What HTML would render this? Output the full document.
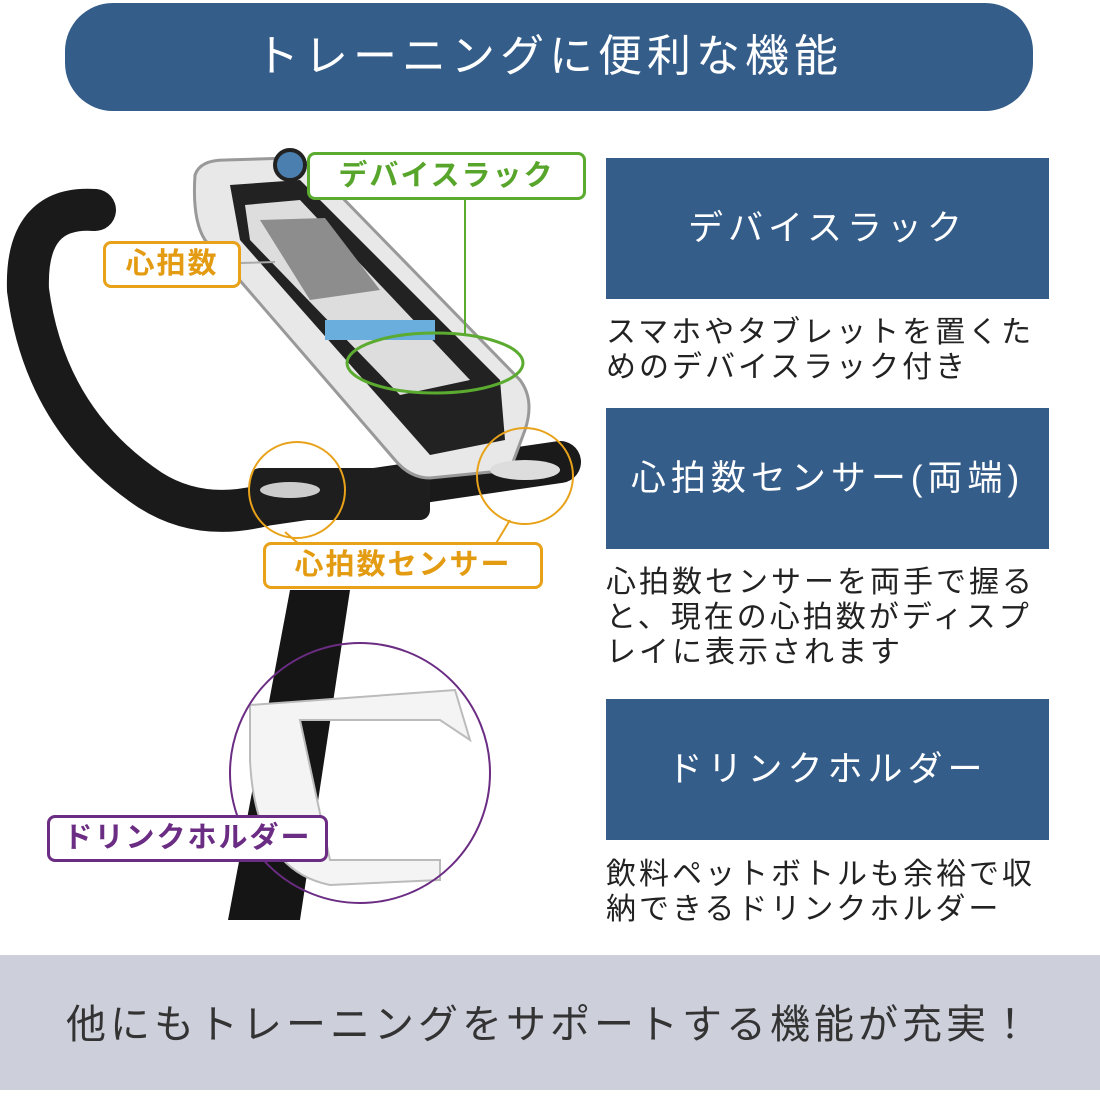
<!DOCTYPE html>
<html><head><meta charset="utf-8"><style>
body{margin:0;width:1100px;height:1100px;background:#fff;position:relative;overflow:hidden;font-family:"Liberation Sans","Noto Sans CJK JP",sans-serif}
.t{position:absolute;left:65px;top:3px;width:968px;height:108px;border-radius:48px;background:#345d8a;color:#fff;font-size:44px;text-align:center;line-height:108px;letter-spacing:5px}
.b{position:absolute;left:606px;width:443px;height:141px;background:#345d8a;color:#fff;font-size:35px;text-align:center;line-height:141px;letter-spacing:5px}
.d{position:absolute;left:606px;width:432px;font-size:30px;line-height:35px;color:#222;letter-spacing:3px}
.g{position:absolute;left:0;top:955px;width:1100px;height:135px;background:#cdcfdb;color:#333;font-size:40px;line-height:140px;text-align:center;letter-spacing:4px}
.l{position:absolute;background:#fff;border:3px solid;border-radius:8px;font-weight:bold;font-size:29px;text-align:center;box-sizing:border-box;letter-spacing:2px}
</style></head><body>
<div class="t">トレーニングに便利な機能</div>
<svg style="position:absolute;left:0;top:0" width="600" height="950">
<path d="M290 590 L350 590 L300 920 L228 920Z" fill="#151515"/>
<path d="M95 210 Q25 205 28 290 Q45 420 150 490 Q200 522 265 505 L560 462" stroke="#1a1a1a" stroke-width="42" fill="none" stroke-linecap="round"/>
<rect x="250" y="468" width="180" height="52" rx="10" fill="#1e1e1e"/>
<path d="M195 175 Q200 160 225 160 L290 158 Q310 158 330 185 L520 380 Q535 400 525 430 L510 470 L430 478 Q410 478 395 460 L205 240 Q192 220 195 175Z" fill="#e8e8e8" stroke="#999" stroke-width="3"/>
<path d="M230 185 L300 180 L500 380 L505 440 L430 455 L240 240Z" fill="#222"/>
<path d="M245 205 L300 200 L470 380 L400 395 L250 240Z" fill="#ddd"/>
<path d="M260 220 L325 218 L380 290 L310 300Z" fill="#8d8d8d"/>
<rect x="325" y="320" width="110" height="20" fill="#6aaede"/>
<circle cx="290" cy="165" r="15" fill="#4a7fb0" stroke="#222" stroke-width="4"/>
<ellipse cx="525" cy="470" rx="35" ry="10" fill="#ddd"/>
<ellipse cx="290" cy="490" rx="30" ry="8" fill="#ccc"/>
<path d="M250 705 L455 690 L470 740 L440 720 L300 720 L330 860 L440 860 L440 880 L330 885 Q255 870 250 760Z" fill="#f4f4f4" stroke="#bbb" stroke-width="2"/>
<ellipse cx="435" cy="363" rx="88" ry="30" fill="none" stroke="#5aab2f" stroke-width="3"/>
<line x1="465" y1="200" x2="465" y2="334" stroke="#5aab2f" stroke-width="2"/>
<line x1="241" y1="263" x2="275" y2="262" stroke="#aaa" stroke-width="2"/>
<circle cx="297" cy="490" r="48" fill="none" stroke="#e8a21a" stroke-width="2"/>
<circle cx="525" cy="476" r="48" fill="none" stroke="#e8a21a" stroke-width="2"/>
<line x1="285" y1="532" x2="300" y2="545" stroke="#e8a21a" stroke-width="2"/>
<line x1="510" y1="520" x2="495" y2="545" stroke="#e8a21a" stroke-width="2"/>
<circle cx="360" cy="773" r="130" fill="none" stroke="#6b2c83" stroke-width="2"/>
</svg>
<div class="l" style="left:307px;top:152px;width:279px;height:48px;line-height:42px;border-color:#5aab2f;color:#58a52c">デバイスラック</div>
<div class="l" style="left:103px;top:241px;width:138px;height:47px;line-height:41px;border-color:#e8a21a;color:#e39b12">心拍数</div>
<div class="l" style="left:263px;top:542px;width:280px;height:47px;line-height:41px;border-color:#e8a21a;color:#e39b12">心拍数センサー</div>
<div class="l" style="left:47px;top:815px;width:281px;height:47px;line-height:41px;border-color:#6b2c83;color:#6b2c83">ドリンクホルダー</div>
<div class="b" style="top:158px">デバイスラック</div>
<div class="d" style="top:315px">スマホやタブレットを置くためのデバイスラック付き</div>
<div class="b" style="top:408px">心拍数センサー(両端)</div>
<div class="d" style="top:565px">心拍数センサーを両手で握ると、現在の心拍数がディスプレイに表示されます</div>
<div class="b" style="top:699px">ドリンクホルダー</div>
<div class="d" style="top:857px">飲料ペットボトルも余裕で収納できるドリンクホルダー</div>
<div class="g">他にもトレーニングをサポートする機能が充実！</div>
</body></html>
